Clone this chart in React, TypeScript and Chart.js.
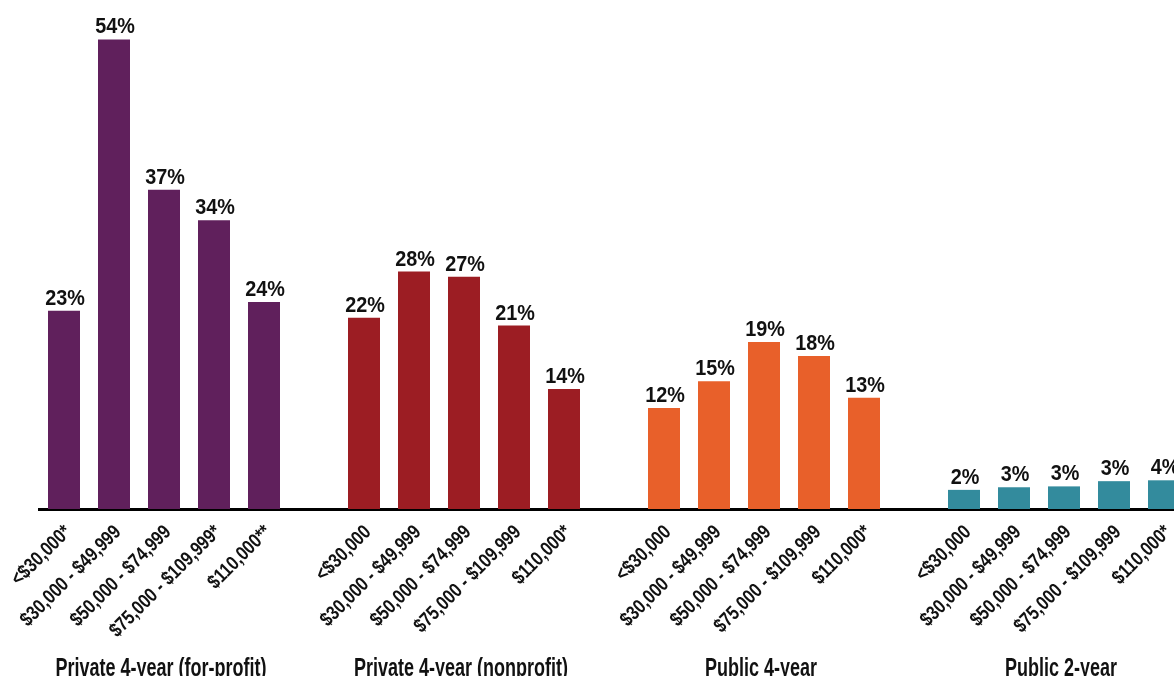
import React, { useEffect, useRef } from 'react';
import { Chart, registerables } from 'chart.js';

Chart.register(...registerables);

const groupNames = ['Private 4-year (for-profit)', 'Private 4-year (nonprofit)', 'Public 4-year', 'Public 2-year'];
const incomeForProfit = ['<$30,000*', '$30,000 - $49,999', '$50,000 - $74,999', '$75,000 - $109,999*', '$110,000**'];
const incomeOther = ['<$30,000', '$30,000 - $49,999', '$50,000 - $74,999', '$75,000 - $109,999', '$110,000*'];

const forProfitValues = [22.8, 54, 36.7, 33.2, 23.8];
const nonprofitValues = [22.0, 27.3, 26.7, 21.1, 13.8];
const public4Values = [11.6, 14.7, 19.2, 17.6, 12.8];
const public2Values = [2.2, 2.5, 2.6, 3.2, 3.3];

const forProfitLabels = ['23%', '54%', '37%', '34%', '24%'];
const nonprofitLabels = ['22%', '28%', '27%', '21%', '14%'];
const public4Labels = ['12%', '15%', '19%', '18%', '13%'];
const public2Labels = ['2%', '3%', '3%', '3%', '4%'];

const groupColors = ['#60205C', '#9C1D23', '#E8602A', '#338B9D'];

const groupIncome = [incomeForProfit, incomeOther, incomeOther, incomeOther];
const groupValues = [forProfitValues, nonprofitValues, public4Values, public2Values];
const groupValueLabels = [forProfitLabels, nonprofitLabels, public4Labels, public2Labels];

// Build slot arrays (each group: 5 bars + a blank gap slot, except after the last group)
const categories: string[] = [];
const values: (number | null)[] = [];
const valueLabels: string[] = [];
const colors: string[] = [];
const groupMiddleIndex: number[] = [];
groupNames.forEach((_, g) => {
  groupIncome[g].forEach((lab, i) => {
    if (i === 2) groupMiddleIndex.push(categories.length);
    categories.push(lab);
    values.push(groupValues[g][i]);
    valueLabels.push(groupValueLabels[g][i]);
    colors.push(groupColors[g]);
  });
  if (g < groupNames.length - 1) {
    categories.push('');
    values.push(null);
    valueLabels.push('');
    colors.push('rgba(0,0,0,0)');
  }
});

const FONT = '"Liberation Sans", Arial, sans-serif';

const textPlugin = {
  id: 'condensedText',
  afterDatasetsDraw(chart: any) {
    const ctx = chart.ctx as CanvasRenderingContext2D;
    const xScale = chart.scales.x;
    const area = chart.chartArea;
    const meta = chart.getDatasetMeta(0);
    ctx.save();
    ctx.fillStyle = '#111111';

    // value labels
    ctx.font = `bold 22px ${FONT}`;
    ctx.textAlign = 'center';
    ctx.textBaseline = 'alphabetic';
    meta.data.forEach((bar: any, i: number) => {
      if (values[i] == null) return;
      ctx.save();
      ctx.translate(bar.x + 1, bar.y - 6);
      ctx.scale(0.9, 1);
      ctx.fillText(valueLabels[i], 0, 0);
      ctx.restore();
    });

    // rotated category tick labels
    ctx.font = `bold 20px ${FONT}`;
    ctx.textAlign = 'right';
    ctx.textBaseline = 'alphabetic';
    categories.forEach((lab, i) => {
      if (!lab) return;
      const x = xScale.getPixelForValue(i);
      ctx.save();
      ctx.translate(x + 8, area.bottom + 24);
      ctx.rotate(-Math.PI / 4);
      ctx.scale(0.82, 1);
      ctx.fillText(lab, 0, 0);
      ctx.restore();
    });

    // group labels
    ctx.font = `bold 25px ${FONT}`;
    ctx.textAlign = 'center';
    groupNames.forEach((name, g) => {
      const x = xScale.getPixelForValue(groupMiddleIndex[g]);
      ctx.save();
      ctx.translate(x - 3, area.bottom + 167);
      ctx.scale(0.72, 1);
      ctx.fillText(name, 0, 0);
      ctx.restore();
    });
    ctx.restore();
  },
};

export default function App() {
  const canvasRef = useRef<HTMLCanvasElement | null>(null);

  useEffect(() => {
    if (!canvasRef.current) return;
    const chart = new Chart(canvasRef.current, {
      type: 'bar',
      data: {
        labels: categories,
        datasets: [
          {
            data: values,
            backgroundColor: colors,
            borderWidth: 0,
            barPercentage: 0.64,
            categoryPercentage: 1,
          },
        ],
      },
      options: {
        responsive: false,
        animation: false,
        layout: { padding: { top: 22, bottom: 167, left: 39, right: 11 } },
        plugins: {
          legend: { display: false },
          tooltip: { enabled: false },
          title: { display: false },
        },
        scales: {
          x: {
            grid: { display: false, drawTicks: false },
            border: { display: true, color: '#000000', width: 3 },
            ticks: { display: false },
          },
          y: {
            display: false,
            min: 0,
            max: 56,
          },
        },
      },
      plugins: [textPlugin],
    });
    return () => chart.destroy();
  }, []);

  return (
    <div
      style={{
        position: 'fixed',
        left: 0,
        top: 0,
        width: 1174,
        height: 676,
        overflow: 'hidden',
        background: '#ffffff',
      }}
    >
      <canvas ref={canvasRef} width={1200} height={676} style={{ display: 'block' }} />
    </div>
  );
}
